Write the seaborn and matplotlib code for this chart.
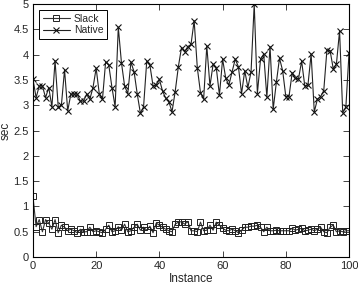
import matplotlib
matplotlib.use("Agg")
import matplotlib.pyplot as plt
import seaborn as sns
import numpy as np
import pandas as pd

instances = list(range(0, 101))
native = [3.52, 3.15, 3.38, 3.38, 3.15, 3.35, 2.97, 3.88, 2.96, 3.00,
          3.70, 2.89, 3.22, 3.22, 3.22, 3.08, 3.08, 3.22, 3.12, 3.35,
          3.73, 3.22, 3.12, 3.86, 3.79, 3.35, 2.97, 4.54, 3.84, 3.38,
          3.23, 3.85, 3.66, 3.22, 2.84, 2.97, 3.87, 3.79, 3.38, 3.40,
          3.51, 3.28, 3.14, 3.07, 2.87, 3.27, 3.76, 4.14, 4.06, 4.16,
          4.20, 4.67, 3.74, 3.25, 3.12, 4.17, 3.38, 3.81, 3.74, 3.20,
          3.91, 3.53, 3.40, 3.66, 3.91, 3.76, 3.23, 3.68, 3.35, 3.66,
          5.00, 3.23, 3.91, 4.01, 3.16, 4.16, 2.92, 3.45, 3.93, 3.68,
          3.17, 3.17, 3.64, 3.53, 3.52, 3.87, 3.38, 3.40, 4.01, 2.87,
          3.12, 3.17, 3.29, 4.09, 4.08, 3.72, 3.81, 4.47, 2.85, 2.97,
          4.04]
slack = [1.20, 0.60, 0.74, 0.50, 0.74, 0.67, 0.55, 0.74, 0.48, 0.63,
         0.59, 0.52, 0.55, 0.52, 0.48, 0.55, 0.50, 0.50, 0.59, 0.50,
         0.52, 0.50, 0.48, 0.55, 0.63, 0.50, 0.52, 0.60, 0.53, 0.65,
         0.50, 0.52, 0.59, 0.65, 0.53, 0.59, 0.53, 0.61, 0.48, 0.67,
         0.63, 0.59, 0.55, 0.52, 0.50, 0.65, 0.69, 0.70, 0.65, 0.70,
         0.52, 0.52, 0.50, 0.69, 0.52, 0.53, 0.63, 0.53, 0.69, 0.63,
         0.57, 0.53, 0.52, 0.55, 0.52, 0.48, 0.53, 0.59, 0.59, 0.61,
         0.61, 0.63, 0.59, 0.50, 0.59, 0.52, 0.52, 0.53, 0.52, 0.52,
         0.52, 0.52, 0.57, 0.53, 0.55, 0.57, 0.52, 0.53, 0.55, 0.52,
         0.55, 0.59, 0.50, 0.48, 0.59, 0.63, 0.50, 0.52, 0.50, 0.52,
         0.52]
series_names = ["Slack", "Native"]
yticks = [0, 0.5, 1, 1.5, 2, 2.5, 3, 3.5, 4, 4.5, 5]
ytick_labels = ["0", "0.5", "1", "1.5", "2", "2.5", "3", "3.5", "4", "4.5", "5"]
xticks = [0, 20, 40, 60, 80, 100]

sns.set_style("ticks")
plt.rcParams['font.family'] = ['Liberation Sans', 'DejaVu Sans']

df = pd.DataFrame({
    "Instance": instances * 2,
    "sec": slack + native,
    "series": [series_names[0]] * len(slack) + [series_names[1]] * len(native),
})

fig = plt.figure(figsize=(3.58, 2.85), dpi=100)
ax = fig.add_axes([0.092, 0.098, 0.883, 0.888])

sns.lineplot(data=df[df.series == "Slack"], x="Instance", y="sec", ax=ax,
             color="#333333", linewidth=0.8, marker="s", markersize=4.5,
             markerfacecolor="none", markeredgecolor="#222222", markeredgewidth=0.7,
             label="Slack")
sns.lineplot(data=df[df.series == "Native"], x="Instance", y="sec", ax=ax,
             color="#222222", linewidth=0.8, marker="x", markersize=4.5,
             markeredgecolor="#111111", markeredgewidth=0.8,
             label="Native")

ax.set_xlim(0, 100)
ax.set_ylim(0, 5)
ax.set_xticks(xticks)
ax.set_xticklabels([str(t) for t in xticks])
ax.set_yticks(yticks)
ax.set_yticklabels(ytick_labels)
ax.tick_params(direction="in", length=4, width=0.6, labelsize=8, top=True, right=True, pad=3)
for s in ax.spines.values():
    s.set_linewidth(0.8)
    s.set_color("black")
ax.set_xlabel("Instance", fontsize=8.5, labelpad=1)
ax.set_ylabel("sec", fontsize=8.5, labelpad=1)

leg = ax.legend(loc="upper left", bbox_to_anchor=(0.019, 0.976), borderaxespad=0,
                fontsize=7.5, frameon=True, fancybox=False, edgecolor="black",
                framealpha=1, handlelength=2.6, borderpad=0.35, labelspacing=0.15,
                handletextpad=0.4)
leg.get_frame().set_linewidth(0.7)

fig.savefig("out.png", dpi=100)
